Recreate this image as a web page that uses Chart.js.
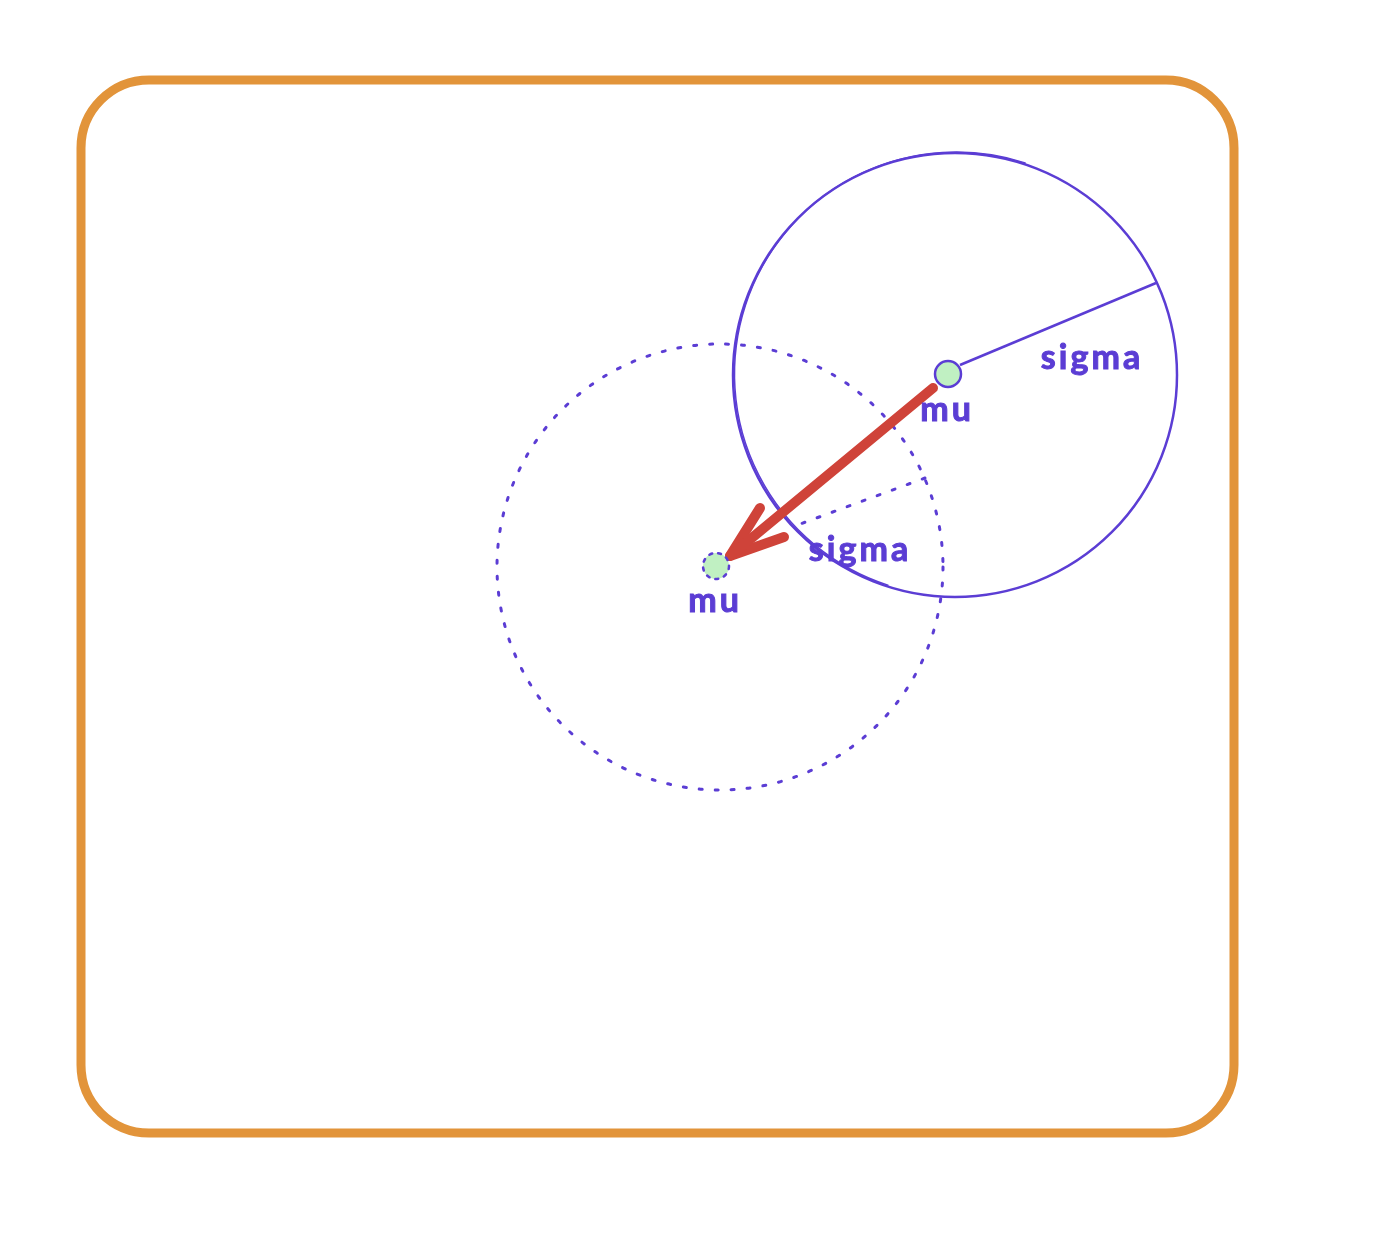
<!DOCTYPE html>
<html>
<head>
<meta charset="utf-8">
<script src="https://cdn.jsdelivr.net/npm/chart.js@4.4.1/dist/chart.umd.min.js"></script>
<style>
html,body{margin:0;padding:0;background:#fff}
#wrap{width:1376px;height:1238px}
</style>
</head>
<body>
<div id="wrap"><canvas id="diagrama" width="1376" height="1238"></canvas></div>
<script>
// coordenadas (eixo y para baixo)
var moldura=[81,80,1234,1133]; // esquerda, topo, direita, base
var centros=[{x:955,y:375},{x:720,y:567}]; // circulo solido, circulo pontilhado
var sigmas=[222,223];
var mu=[{x:948,y:374},{x:716,y:566}];
var raioSolido=[{x:960,y:365},{x:1156,y:283}];
var raioPontilhado=[{x:925,y:478},{x:792,y:527}];
var seta=[{x:933,y:388},{x:730,y:556}];
var pontaSeta=[{x:760,y:508},{x:730,y:556},{x:784,y:537}];
var rotulos=["mu","mu","sigma","sigma"];
var posRotulos=[{x:947,y:421},{x:715,y:612},{x:1092,y:369},{x:860,y:561}];

var roxo="#5b3dd4", laranja="#e2943a", verde="#c0f0c2", vermelho="#cf4339";

var desenho={
    id:"desenho",
    beforeDatasetsDraw:function(chart){
        var ctx=chart.ctx, sx=chart.scales.x, sy=chart.scales.y;
        ctx.save();
        // moldura arredondada
        var x0=sx.getPixelForValue(moldura[0]), y0=sy.getPixelForValue(moldura[1]);
        var x1=sx.getPixelForValue(moldura[2]), y1=sy.getPixelForValue(moldura[3]);
        ctx.strokeStyle=laranja;
        ctx.lineWidth=9;
        ctx.beginPath();
        ctx.roundRect(x0,y0,x1-x0,y1-y0,68);
        ctx.stroke();
        // circulos sigma
        ctx.strokeStyle=roxo;
        for (let i = 0; i < centros.length; i++) {
            var cx=sx.getPixelForValue(centros[i].x), cy=sy.getPixelForValue(centros[i].y);
            var r=sx.getPixelForValue(centros[i].x+sigmas[i])-cx;
            ctx.lineWidth=i==1?3:2.5;
            ctx.lineCap="round";
            ctx.setLineDash(i==1?[3,13]:[]);
            ctx.beginPath();
            ctx.arc(cx,cy,r,0,Math.PI*2);
            ctx.stroke();
            if(i==0){
                // traço duplo de mão livre
                ctx.lineWidth=1.5;
                ctx.beginPath();
                ctx.arc(cx+1.5,cy-1,r,Math.PI*0.6,Math.PI*1.6);
                ctx.stroke();
            }
        }
        ctx.restore();
    },
    afterDatasetsDraw:function(chart){
        var ctx=chart.ctx, sx=chart.scales.x, sy=chart.scales.y;
        ctx.save();
        // contorno pontilhado do segundo mu
        ctx.strokeStyle=roxo;
        ctx.lineWidth=2.5;
        ctx.lineCap="round";
        ctx.setLineDash([3,6]);
        ctx.beginPath();
        ctx.arc(sx.getPixelForValue(mu[1].x),sy.getPixelForValue(mu[1].y),13,0,Math.PI*2);
        ctx.stroke();
        ctx.setLineDash([]);
        // rotulos
        ctx.fillStyle=roxo;
        ctx.strokeStyle=roxo;
        ctx.lineWidth=1;
        ctx.font="bold 34px Lato";
        ctx.textAlign="center";
        ctx.textBaseline="alphabetic";
        ctx.letterSpacing="3px";
        for (let i = 0; i < rotulos.length; i++) {
            var tx=sx.getPixelForValue(posRotulos[i].x), ty=sy.getPixelForValue(posRotulos[i].y);
            ctx.fillText(rotulos[i],tx,ty);
            ctx.strokeText(rotulos[i],tx,ty);
        }
        ctx.restore();
    }
};

window.addEventListener("load", function (){
    new Chart(document.getElementById("diagrama"),{
        type:"scatter",
        data:{
            datasets:[
                {
                    label:"mu",
                    data:mu,
                    pointRadius:13,
                    pointBackgroundColor:verde,
                    pointBorderColor:[roxo,"rgba(0,0,0,0)"],
                    pointBorderWidth:2.5,
                    order:0
                },
                {
                    label:"seta",
                    data:seta,
                    showLine:true,
                    pointRadius:0,
                    borderColor:vermelho,
                    borderWidth:10,
                    borderCapStyle:"round",
                    order:1
                },
                {
                    label:"ponta",
                    data:pontaSeta,
                    showLine:true,
                    pointRadius:0,
                    borderColor:vermelho,
                    borderWidth:10,
                    borderCapStyle:"round",
                    borderJoinStyle:"round",
                    order:1
                },
                {
                    label:"sigma solido",
                    data:raioSolido,
                    showLine:true,
                    pointRadius:0,
                    borderColor:roxo,
                    borderWidth:2.5,
                    order:2
                },
                {
                    label:"sigma pontilhado",
                    data:raioPontilhado,
                    showLine:true,
                    pointRadius:0,
                    borderColor:roxo,
                    borderWidth:3,
                    borderDash:[3,13],
                    borderCapStyle:"round",
                    order:2
                }
            ]
        },
        options:{
            responsive:false,
            animation:false,
            layout:{padding:0,autoPadding:false},
            plugins:{legend:{display:false},tooltip:{enabled:false}},
            scales:{
                x:{type:"linear",min:0,max:1376,display:false},
                y:{type:"linear",min:0,max:1238,reverse:true,display:false}
            }
        },
        plugins:[desenho]
    });
});
</script>
</body>
</html>
